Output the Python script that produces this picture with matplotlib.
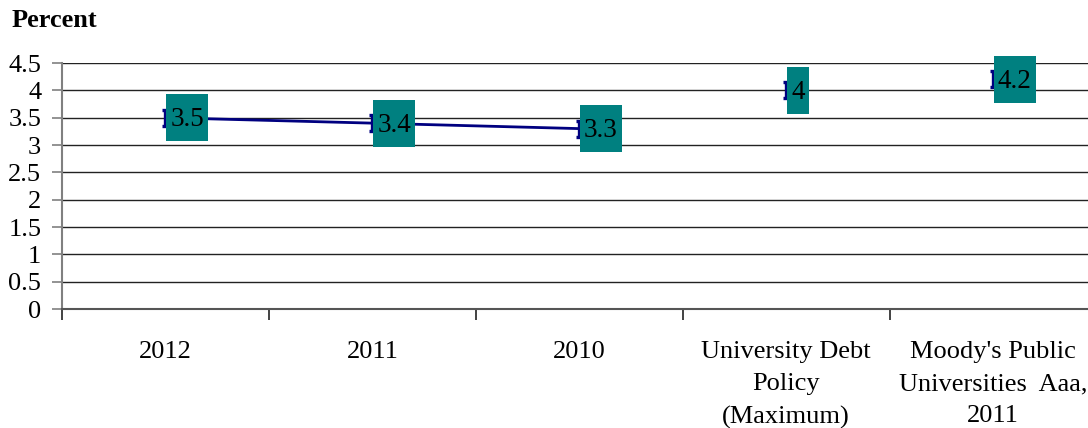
import matplotlib.pyplot as plt
from matplotlib.path import Path
from matplotlib.patches import Rectangle
from matplotlib.transforms import IdentityTransform

plt.rcParams['font.family'] = ['Liberation Serif', 'DejaVu Serif']

categories = ["2012", "2011", "2010",
              "University Debt\nPolicy\n(Maximum)",
              "Moody's Public\nUniversities  Aaa,\n2011"]
values = [3.5, 3.4, 3.3, 4.0, 4.2]
labels = ["3.5", "3.4", "3.3", "4", "4.2"]
trend_count = 3  # only the yearly points are joined by a line
yticks = [0, 0.5, 1, 1.5, 2, 2.5, 3, 3.5, 4, 4.5]
ytick_labels = ["0", "0.5", "1", "1.5", "2", "2.5", "3", "3.5", "4", "4.5"]

navy = "#000080"
teal = "#008080"

# I-beam marker
bar_marker = Path([(0, -1), (0, 1), (-0.35, 1), (0.35, 1), (-0.35, -1), (0.35, -1)],
                  [Path.MOVETO, Path.LINETO, Path.MOVETO, Path.LINETO, Path.MOVETO, Path.LINETO])

fig = plt.figure(figsize=(10.88, 4.28), dpi=100)
ax = fig.add_axes([0.057, 0.278, 0.9508, 0.5748])

xs = list(range(len(categories)))
ax.plot(xs[:trend_count], values[:trend_count], color=navy, lw=2, zorder=3)
ax.plot(xs, values, ls="none", marker=bar_marker, markersize=11,
        mew=2.4, mec=navy, color=navy, zorder=3, clip_on=False)

ax.set_xlim(-0.5, len(categories) - 0.5)
ax.set_ylim(0, 4.5)
ax.set_yticks(yticks)
ax.set_yticklabels(ytick_labels, fontsize=19)
ax.set_xticks(xs)
ax.set_xticklabels(categories, fontsize=19, linespacing=1.6)
ax.set_xticks([x - 0.5 for x in range(len(categories) + 1)], minor=True)
ax.tick_params(axis="x", which="major", length=0, pad=23)
ax.tick_params(axis="x", which="minor", length=8, width=1.2, color="#222222")
ax.tick_params(axis="y", length=7, width=1.2, color="#808080", pad=8)

ax.grid(axis="y", color="#222222", lw=1)
ax.set_axisbelow(True)
for side in ["top", "right"]:
    ax.spines[side].set_visible(False)
ax.spines["left"].set_color("#808080")
ax.spines["left"].set_linewidth(1.5)
ax.spines["bottom"].set_color("#555555")
ax.spines["bottom"].set_linewidth(1.5)

fig.text(0.011, 0.953, "Percent", fontsize=19, fontweight="bold", va="center")

# value labels in teal boxes
texts = []
for x, v, lab in zip(xs, values, labels):
    t = ax.annotate(lab, (x, v), xytext=(3.5, -1.5), textcoords="offset points",
                    ha="left", va="center", fontsize=19.5, color="black",
                    zorder=6, annotation_clip=False)
    texts.append(t)

fig.canvas.draw()
renderer = fig.canvas.get_renderer()
for t, x, v in zip(texts, xs, values):
    bb = t.get_window_extent(renderer)
    px, py = ax.transData.transform((x, v))
    box = Rectangle((px + 1, py - 23.5), bb.x1 + 4 - (px + 1), 47,
                    transform=IdentityTransform(), facecolor=teal,
                    edgecolor="none", zorder=5, clip_on=False)
    ax.add_patch(box)

fig.savefig("out.png", dpi=100)
